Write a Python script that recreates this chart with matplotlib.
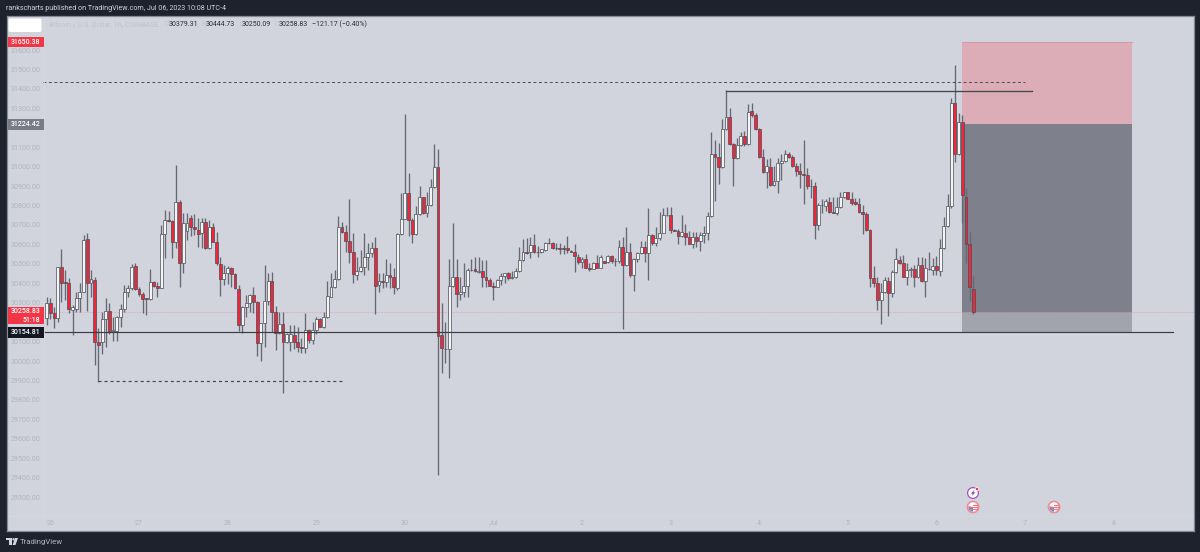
import matplotlib
matplotlib.use("Agg")
import matplotlib.pyplot as plt
from matplotlib.patches import Rectangle, FancyBboxPatch, Circle, Wedge, Polygon

plt.rcParams['font.family'] = ['Roboto', 'DejaVu Sans']

opens = [
 30223,30297,30245,30220,30482,30406,30400,30262,30269,30322,
 30357,30626,30400,30417,30099,30099,30214,30257,30156,30156,
 30228,30269,30355,30377,30487,30369,30346,30322,30319,30405,
 30386,30377,30652,30725,30719,30612,30816,30502,30671,30734,
 30691,30674,30657,30717,30580,30691,30614,30499,30420,30451,
 30477,30448,30370,30185,30276,30297,30340,30305,30091,30194,
 30310,30413,30254,30146,30189,30099,30097,30134,30099,30070,
 30068,30159,30108,30159,30214,30173,30228,30331,30379,30422,
 30691,30662,30618,30563,30443,30465,30485,30534,30554,30580,
 30390,30412,30407,30443,30434,30374,30654,30731,30866,30726,
 30654,30757,30842,30760,30803,30894,30997,30134,30062,30062,
 30388,30434,30345,30357,30386,30468,30472,30460,30461,30432,
 30417,30388,30382,30417,30439,30451,30425,30434,30463,30518,
 30559,30559,30597,30562,30561,30571,30606,30606,30583,30583,
 30580,30580,30565,30563,30537,30508,30523,30478,30476,30503,
 30480,30513,30509,30540,30517,30515,30588,30494,30563,30443,
 30523,30554,30585,30558,30648,30609,30631,30660,30753,30753,
 30674,30667,30645,30660,30636,30604,30636,30616,30650,30657,
 30746,31065,31048,31000,31196,31257,31115,31043,31112,31158,
 31115,31285,31264,31196,31052,30971,31000,30906,30926,31017,
 31029,31065,31048,31004,30976,30960,30957,30902,30901,30700,
 30804,30799,30820,30766,30760,30794,30842,30868,30834,30816,
 30806,30768,30757,30674,30429,30403,30314,30357,30413,30352,
 30460,30520,30503,30434,30468,30472,30434,30492,30413,30475,
 30468,30491,30465,30580,30696,30799,31326,31064,31228,30846,
 30600,30373]
highs = [
 30331,30322,30276,30484,30575,30468,30425,30288,30357,30400,
 30648,30657,30468,30430,30168,30254,30322,30297,30228,30232,
 30293,30391,30391,30499,30502,30379,30357,30325,30472,30413,
 30405,30700,30777,30773,30725,31010,30828,30760,30760,30751,
 30756,30734,30734,30734,30725,30708,30665,30537,30494,30489,
 30482,30451,30391,30283,30340,30345,30382,30307,30197,30494,
 30451,30460,30283,30254,30254,30142,30185,30185,30177,30117,
 30245,30163,30202,30228,30220,30254,30413,30451,30468,30746,
 30717,30700,30832,30657,30537,30571,30660,30606,30614,30640,
 30451,30455,30523,30503,30477,30657,30863,31271,30966,30734,
 30798,30901,30846,30871,30935,31117,31089,30297,30200,30523,
 30712,30523,30434,30503,30477,30523,30534,30534,30520,30520,
 30427,30408,30420,30451,30455,30460,30465,30477,30588,30626,
 30631,30640,30654,30592,30578,30614,30631,30610,30606,30606,
 30597,30643,30571,30602,30551,30534,30551,30503,30511,30546,
 30546,30517,30546,30546,30528,30623,30640,30688,30606,30528,
 30563,30619,30619,30786,30654,30691,30769,30786,30791,30791,
 30678,30678,30751,30705,30671,30666,30666,30666,30695,30769,
 31180,31137,31120,31244,31395,31300,31120,31146,31180,31185,
 31323,31326,31275,31200,31089,31038,31043,31004,31043,31065,
 31086,31077,31060,31017,31017,31137,30992,30935,30923,30811,
 30832,30832,30846,30842,30846,30871,30871,30871,30871,30837,
 30837,30803,30768,30677,30489,30434,30400,30434,30434,30468,
 30583,30540,30546,30506,30485,30494,30537,30537,30528,30563,
 30528,30540,30626,30743,30859,31355,31523,31275,31266,30889,
 30666,30438]
lows = [
 30185,30214,30172,30202,30305,30314,30245,30134,30254,30254,
 30355,30259,30328,29979,29894,30036,30074,30139,30105,30105,
 30173,30254,30331,30365,30365,30334,30249,30237,30314,30379,
 30331,30374,30528,30715,30528,30580,30379,30454,30623,30643,
 30648,30588,30580,30575,30575,30611,30494,30334,30391,30396,
 30382,30369,30156,30142,30228,30254,30249,30026,30000,30074,
 30288,30151,30057,30140,29837,30094,30050,30060,30048,30039,
 30043,30091,30087,30139,30173,30170,30220,30328,30374,30417,
 30660,30563,30503,30400,30417,30460,30443,30468,30537,30242,
 30357,30374,30383,30374,30345,30365,30648,30729,30643,30609,
 30648,30751,30757,30739,30798,30889,29413,29940,29990,29914,
 30383,30276,30314,30331,30331,30465,30460,30451,30379,30383,
 30386,30314,30379,30391,30400,30417,30420,30425,30460,30515,
 30552,30528,30557,30537,30558,30568,30602,30578,30571,30551,
 30551,30554,30560,30456,30499,30477,30477,30465,30472,30477,
 30477,30503,30503,30503,30489,30503,30163,30491,30434,30362,
 30511,30551,30511,30417,30597,30592,30623,30657,30746,30660,
 30667,30602,30640,30597,30600,30580,30588,30566,30609,30623,
 30743,30825,30909,30995,31190,31112,30901,31040,31107,31107,
 31112,31257,31189,31043,30966,30889,30901,30901,30866,30932,
 31026,31043,31000,30952,30889,30806,30885,30837,30626,30674,
 30760,30774,30760,30760,30751,30790,30840,30832,30803,30803,
 30760,30654,30671,30383,30379,30262,30189,30350,30232,30328,
 30455,30499,30431,30391,30434,30383,30425,30408,30328,30468,
 30443,30443,30437,30577,30691,30786,31022,31060,30712,30503,
 30311,30244]
closes = [
 30297,30245,30220,30482,30403,30400,30269,30280,30326,30357,
 30623,30400,30420,30099,30082,30214,30257,30156,30159,30228,
 30266,30355,30377,30482,30372,30345,30319,30317,30408,30386,
 30377,30652,30725,30719,30612,30816,30502,30708,30712,30691,
 30677,30653,30717,30580,30691,30614,30502,30420,30451,30477,
 30448,30377,30185,30280,30297,30340,30305,30094,30194,30310,
 30413,30254,30146,30189,30099,30139,30137,30099,30070,30068,
 30159,30108,30159,30214,30177,30228,30334,30383,30422,30691,
 30666,30618,30559,30446,30465,30485,30534,30554,30580,30388,
 30412,30407,30443,30434,30379,30654,30731,30866,30726,30654,
 30757,30842,30760,30803,30894,30997,30129,30065,30060,30388,
 30431,30345,30357,30386,30468,30470,30463,30465,30434,30417,
 30388,30379,30417,30439,30451,30427,30434,30463,30518,30559,
 30557,30597,30561,30560,30575,30606,30608,30582,30581,30576,
 30578,30571,30563,30539,30508,30523,30480,30476,30503,30480,
 30537,30506,30540,30516,30515,30588,30494,30559,30443,30523,
 30554,30588,30558,30648,30609,30631,30660,30753,30750,30674,
 30671,30645,30666,30636,30604,30636,30618,30650,30660,30746,
 31064,31048,31000,31196,31257,31115,31043,31112,31158,31115,
 31283,31264,31196,31052,30971,31004,30906,30926,31017,31031,
 31065,31048,31004,30976,30964,30958,30901,30900,30700,30803,
 30802,30825,30765,30764,30794,30842,30868,30834,30815,30806,
 30765,30757,30674,30429,30403,30314,30357,30417,30352,30460,
 30523,30503,30434,30468,30472,30434,30494,30413,30477,30473,
 30491,30468,30580,30696,30799,31326,31064,31228,30853,30600,
 30379,30252]
assert len(opens) == len(highs) == len(lows) == len(closes) == 252, (len(opens), len(highs), len(lows), len(closes))

price_ticks = [29300,29400,29500,29600,29700,29800,29900,30000,30100,30300,30400,30500,
               30600,30700,30800,30900,31000,31100,31300,31400,31500,31600]
time_ticks = [1,25,49,73,97,121,145,169,193,217,241,265,289]
time_labels = ['26','27','28','29','30','Jul','2','3','4','5','6','7','8']

upper_dash_level, upper_dash_span = 31437, (-1, 265)
upper_solid_level, upper_solid_span = 31390, (184, 267)
lower_dash_level, lower_dash_span = 29897, (14, 80)
support_level, support_span = 30148, (-1, 305)
last_level = 30252
stop_level, entry_level = 31643, 31220
zone_span = (248, 294)

INK = '#1e222d'
PANEL = '#d1d4dc'
RED = '#f23645'
TICK = '#b2b5be'

fig = plt.figure(figsize=(12, 5.52), dpi=100, facecolor=INK)
L, R, T, B = 6.5, 1194, 16, 531
ax = fig.add_axes([L/1200, 1-B/552, (R-L)/1200, (B-T)/552], facecolor=PANEL, zorder=1)
ax.set_xlim((L-46.7)/3.692, (R-46.7)/3.692)
ax.set_ylim(30000+(361-B)/0.1943, 30000+(361-T)/0.1943)
for s in ax.spines.values():
    s.set_color('#868993'); s.set_linewidth(0.9)

ax.set_yticks(price_ticks, [f'{p:.2f}' for p in price_ticks])
ax.set_xticks(time_ticks, time_labels)
ax.tick_params(axis='y', length=0, pad=-24.5, labelsize=5.1, labelcolor=TICK)
ax.tick_params(axis='x', length=0, pad=-7.8, labelsize=5.1, labelcolor=TICK)

# position tool zones
x0, x1 = zone_span
ax.add_patch(Rectangle((x0, entry_level), x1-x0, stop_level-entry_level, fc='#dcadb7', ec='none', zorder=1))
ax.plot([x0, x1], [stop_level]*2, color='#d89aa6', lw=0.8, zorder=1.2)
ax.add_patch(Rectangle((x0, last_level), x1-x0, entry_level-last_level, fc='#7e808b', ec='none', zorder=1))
ax.add_patch(Rectangle((x0, support_level), x1-x0, last_level-support_level, fc='#a1a3ad', ec='none', zorder=1))

ax.axhline(last_level, color=RED, lw=0.45, ls=(0, (1, 1.5)), alpha=0.5, zorder=1.5)

# candles
xs = list(range(len(opens)))
ax.vlines(xs, lows, highs, color='#666974', lw=0.95, zorder=3)
bottoms = [min(o, c) for o, c in zip(opens, closes)]
heights = [max(abs(c-o), 1.5) for o, c in zip(opens, closes)]
fills = ['#f0263a' if c < o else '#f4f4f5' for o, c in zip(opens, closes)]
ax.bar(xs, heights, bottom=bottoms, width=0.78, color=fills, edgecolor='#4a4c55', linewidth=0.5, zorder=4)

# drawings
ax.plot(upper_dash_span, [upper_dash_level]*2, color='#4a4c55', lw=0.7, ls=(0, (3, 2.6)), zorder=5)
ax.plot(upper_solid_span, [upper_solid_level]*2, color='#45474f', lw=0.95, zorder=5)
ax.plot(lower_dash_span, [lower_dash_level]*2, color='#45474f', lw=0.85, ls=(0, (2.6, 2.5)), zorder=5)
ax.plot(support_span, [support_level]*2, color='#3a3c44', lw=0.85, zorder=5)

# overlay in pixel units for the publishing frame, price badges and event icons
ov = fig.add_axes([0, 0, 1, 1], facecolor='none', zorder=2)
ov.set_xlim(0, 1200); ov.set_ylim(552, 0); ov.axis('off')

ov.plot([44, 44], [T+1, B-15], color='#d5d8df', lw=0.6)
ov.plot([L+1, R-1], [516, 516], color='#d5d8df', lw=0.6)

ov.text(6, 9, 'rankscharts published on TradingView.com, Jul 06, 2023 10:08 UTC-4',
        color='#d1d4dc', fontsize=5.1, va='center', ha='left')

ov.add_patch(FancyBboxPatch((9.5, 19.5), 31, 11.5, boxstyle='round,pad=1,rounding_size=1.5', fc='white', ec='none'))

ov.text(49, 24.5, 'Bitcoin / U.S. Dollar, 1h, COINBASE', color='#bfc2cb', fontsize=5.1, va='center')
legend_parts = [(165, 'O', '#bfc2cb'), (168.7, '30379.31', '#2a2e39'), (201, 'H', '#bfc2cb'), (206, '30444.73', '#2a2e39'),
                (239, 'L', '#bfc2cb'), (242, '30250.09', '#2a2e39'), (275, 'C', '#bfc2cb'), (279, '30258.83', '#2a2e39'),
                (311.7, '\u2212121.17 (\u22120.40%)', '#2a2e39')]
for px, label, col in legend_parts:
    ov.text(px, 24.5, label, color=col, fontsize=5.0, va='center')

def badge(y0, y1, fc, lines):
    ov.add_patch(Rectangle((8, y0), 36, y1-y0, fc=fc, ec='none', zorder=3))
    n = len(lines)
    for k, s in enumerate(lines):
        yc = y0 + (y1-y0)*(k+0.5)/n
        ov.text(40.5, yc, s, color='white', fontsize=5.0, va='center', ha='right', fontweight='medium', zorder=4)

badge(36.5, 46.8, RED, ['31650.38'])
badge(119.2, 129.6, '#787b86', ['31224.42'])
badge(306.5, 324, RED, ['30258.83', '51:18'])
badge(327, 337.5, '#131722', ['30154.81'])

# event icons
def flag(cx, cy):
    ov.add_patch(Circle((cx, cy), 5.9, fc='#f7a0a6', ec='#ef7f88', lw=0.6, zorder=3))
    ov.add_patch(Circle((cx, cy), 4.6, fc='white', ec='none', zorder=3.1))
    ov.add_patch(Wedge((cx, cy), 4.6, 90, 190, fc='#4b94e3', ec='none', zorder=3.2))
    for dy, w in ((-1.6, 4), (0.4, 9), (2.4, 8)):
        ov.plot([cx-w/2 if w > 4 else cx, cx+w/2 if w > 4 else cx+w], [cy+dy]*2, color='#f0737c', lw=0.8, zorder=3.3)

ov.add_patch(Circle((973, 493), 5.4, fc='white', ec='#a64fc9', lw=0.9, zorder=3))
ov.add_patch(Polygon([(974.5, 489.5), (971, 493.6), (973, 493.6), (971.5, 496.6), (975.2, 492.3), (973.2, 492.3)],
                     fc='#7b2fb0', ec='none', zorder=3.2))
ov.add_patch(Circle((977, 489), 1.7, fc=RED, ec='white', lw=0.5, zorder=3.3))
flag(973, 507)
flag(1054, 507)

# publisher mark
ov.add_patch(Polygon([(6, 538), (12, 538), (12, 545), (9.3, 545), (9.3, 540.3), (6, 540.3)], fc='#d1d4dc', ec='none'))
ov.add_patch(Circle((13.5, 539.3), 1.2, fc='#d1d4dc', ec='none'))
ov.add_patch(Polygon([(15, 538), (18, 538), (15.5, 545), (12.6, 545)], fc='#d1d4dc', ec='none'))
ov.text(19.3, 541.7, 'TradingView', color='#b2b5be', fontsize=5.6, va='center', ha='left')

fig.savefig('out.png', dpi=100, facecolor=INK)
